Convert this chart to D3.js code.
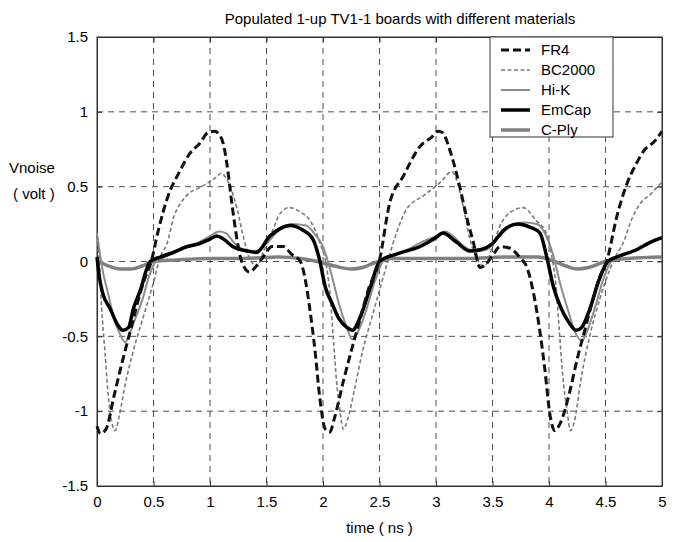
<!DOCTYPE html>
<html>
<head>
<meta charset="utf-8">
<script src="https://cdn.jsdelivr.net/npm/d3@7"></script>
<style>
	body { margin: 0; background: #fff; }
	text { font-family: "Liberation Sans", Arial, sans-serif; }
</style>
</head>
<body>
<div id="noise-chart"></div>
<script>

// ****** data ******
const chart_title = "Populated 1-up TV1-1 boards with different materials";
const x_ticks = [0, 0.5, 1, 1.5, 2, 2.5, 3, 3.5, 4, 4.5, 5];
const y_ticks = [-1.5, -1, -0.5, 0, 0.5, 1, 1.5];
const series_names = ["FR4", "BC2000", "Hi-K", "EmCap", "C-Ply"];

// [time (ns), Vnoise (volt)]
const fr4 = [[0,-1.10],[0.03,-1.15],[0.08,-1.12],[0.15,-0.9],[0.23,-0.65],[0.3,-0.45],[0.35,-0.3],[0.42,-0.12],[0.48,0.0],
	[0.54,0.2],[0.63,0.44],[0.73,0.6],[0.82,0.72],[0.91,0.79],[0.98,0.86],[1.04,0.87],[1.08,0.85],[1.12,0.78],[1.15,0.65],
	[1.2,0.35],[1.25,0.1],[1.28,0.0],[1.35,-0.07],[1.41,-0.03],[1.47,0.03],[1.55,0.1],[1.65,0.1],[1.72,0.05],[1.8,0.0],
	[1.85,-0.15],[1.88,-0.3],[1.93,-0.6],[1.97,-0.9],[2.02,-1.12],[2.06,-1.14],[2.1,-1.05],[2.18,-0.8],[2.26,-0.57],
	[2.33,-0.38],[2.4,-0.19],[2.5,0.01],[2.59,0.39],[2.71,0.57],[2.86,0.77],[2.96,0.83],[3.02,0.87],[3.06,0.86],[3.12,0.75],
	[3.21,0.5],[3.27,0.3],[3.33,0.13],[3.39,-0.04],[3.44,-0.02],[3.5,0.04],[3.57,0.1],[3.65,0.09],[3.74,0.03],[3.81,-0.05],
	[3.86,-0.2],[3.92,-0.47],[3.96,-0.7],[4.01,-1.03],[4.05,-1.13],[4.1,-1.08],[4.19,-0.85],[4.25,-0.65],[4.32,-0.45],
	[4.39,-0.25],[4.45,-0.1],[4.51,0.0],[4.6,0.3],[4.69,0.52],[4.77,0.65],[4.85,0.75],[4.93,0.8],[5.0,0.87]];

const bc2000 = [[0,0.17],[0.02,0.0],[0.04,-0.3],[0.07,-0.6],[0.1,-0.9],[0.13,-1.07],[0.16,-1.13],[0.2,-1.02],[0.25,-0.82],
	[0.32,-0.6],[0.41,-0.37],[0.5,-0.14],[0.56,0.03],[0.62,0.12],[0.68,0.3],[0.75,0.4],[0.82,0.46],[0.9,0.49],[0.97,0.52],
	[1.05,0.56],[1.1,0.59],[1.14,0.56],[1.18,0.5],[1.24,0.35],[1.3,0.15],[1.35,0.02],[1.42,-0.03],[1.47,0.06],[1.55,0.2],
	[1.62,0.32],[1.7,0.36],[1.8,0.33],[1.88,0.28],[1.97,0.13],[2.03,-0.03],[2.06,-0.2],[2.09,-0.5],[2.12,-0.8],[2.15,-1.0],
	[2.18,-1.12],[2.22,-1.05],[2.28,-0.85],[2.35,-0.6],[2.43,-0.38],[2.52,-0.14],[2.58,0.02],[2.65,0.19],[2.74,0.35],
	[2.89,0.44],[3.04,0.53],[3.14,0.6],[3.18,0.55],[3.24,0.37],[3.3,0.15],[3.36,0.02],[3.43,-0.03],[3.5,0.1],[3.58,0.26],
	[3.66,0.33],[3.77,0.36],[3.89,0.27],[3.97,0.2],[4.02,0.05],[4.06,-0.15],[4.09,-0.45],[4.12,-0.75],[4.16,-1.0],
	[4.19,-1.13],[4.23,-1.05],[4.28,-0.8],[4.36,-0.5],[4.45,-0.25],[4.54,-0.05],[4.6,0.05],[4.66,0.13],[4.72,0.26],
	[4.81,0.39],[4.9,0.45],[4.96,0.5],[5.0,0.53]];

const hik = [[0,0.19],[0.02,0.08],[0.05,-0.06],[0.1,-0.22],[0.15,-0.38],[0.2,-0.48],[0.25,-0.54],[0.29,-0.48],[0.34,-0.38],
	[0.4,-0.26],[0.46,-0.1],[0.52,0.0],[0.6,0.03],[0.7,0.06],[0.8,0.1],[0.9,0.13],[1.0,0.17],[1.08,0.2],[1.14,0.19],
	[1.22,0.12],[1.3,0.08],[1.4,0.07],[1.5,0.12],[1.6,0.2],[1.72,0.25],[1.85,0.24],[1.93,0.18],[2.0,0.1],[2.08,-0.1],
	[2.14,-0.28],[2.2,-0.42],[2.26,-0.52],[2.31,-0.47],[2.38,-0.33],[2.46,-0.13],[2.53,0.0],[2.62,0.04],[2.75,0.08],
	[2.9,0.14],[3.0,0.17],[3.08,0.2],[3.15,0.17],[3.25,0.1],[3.35,0.07],[3.45,0.08],[3.55,0.16],[3.65,0.23],[3.78,0.26],
	[3.89,0.25],[3.97,0.18],[4.03,0.06],[4.1,-0.15],[4.17,-0.33],[4.23,-0.47],[4.29,-0.53],[4.34,-0.46],[4.41,-0.3],
	[4.48,-0.12],[4.55,0.0],[4.65,0.04],[4.8,0.09],[4.9,0.13],[5.0,0.16]];

const emcap = [[0,0.03],[0.02,-0.1],[0.05,-0.21],[0.12,-0.32],[0.18,-0.42],[0.23,-0.46],[0.28,-0.44],[0.32,-0.32],
	[0.38,-0.2],[0.47,0.0],[0.56,0.03],[0.67,0.06],[0.8,0.1],[0.91,0.12],[1.0,0.15],[1.06,0.17],[1.12,0.15],[1.2,0.1],
	[1.33,0.07],[1.41,0.06],[1.53,0.17],[1.62,0.22],[1.71,0.24],[1.82,0.21],[1.91,0.15],[1.97,0.01],[2.02,-0.17],
	[2.08,-0.28],[2.14,-0.38],[2.21,-0.44],[2.26,-0.46],[2.33,-0.37],[2.42,-0.17],[2.5,0.0],[2.65,0.05],[2.86,0.1],
	[3.0,0.16],[3.06,0.19],[3.18,0.13],[3.3,0.07],[3.4,0.08],[3.5,0.12],[3.6,0.21],[3.72,0.25],[3.83,0.23],[3.92,0.19],
	[3.98,0.03],[4.04,-0.17],[4.1,-0.3],[4.17,-0.4],[4.24,-0.46],[4.29,-0.44],[4.36,-0.32],[4.44,-0.13],[4.52,0.0],
	[4.6,0.03],[4.78,0.08],[4.9,0.13],[5.0,0.16]];

const cply = [[0,0.01],[0.1,-0.03],[0.2,-0.05],[0.3,-0.05],[0.4,-0.03],[0.5,0.0],[0.7,0.01],[1.0,0.02],[1.3,0.02],
	[1.6,0.03],[1.8,0.02],[1.95,0.0],[2.1,-0.03],[2.25,-0.05],[2.35,-0.04],[2.45,-0.01],[2.6,0.02],[3.0,0.02],[3.3,0.02],
	[3.6,0.03],[3.9,0.03],[4.05,0.0],[4.15,-0.03],[4.25,-0.05],[4.35,-0.04],[4.5,0.0],[4.7,0.02],[5.0,0.03]];


function draw_chart(element_id) {

	const margin = {top: 37, right: 18, bottom: 56, left: 97},
	width = 680 - margin.left - margin.right,
	height = 542 - margin.top - margin.bottom;

	const svg = d3.select("#" + element_id)
		.append("svg")
			.attr("width", 680)
			.attr("height", 542);

	const g = svg.append("g")
		.attr("transform", "translate(" + margin.left + "," + margin.top + ")");

	const x_axis = d3.scaleLinear().domain([0, 5]).range([0, width]);
	const y_axis = d3.scaleLinear().domain([-1.5, 1.5]).range([height, 0]);

	// dashed grid
	g.append("g")
		.selectAll("line")
		.data(x_ticks.slice(1, -1))
		.join("line")
			.attr("x1", d => x_axis(d)).attr("x2", d => x_axis(d))
			.attr("y1", 0).attr("y2", height)
			.attr("stroke", "#222").attr("stroke-width", 0.8)
			.attr("stroke-dasharray", "6,5");
	g.append("g")
		.selectAll("line")
		.data(y_ticks.slice(1, -1))
		.join("line")
			.attr("x1", 0).attr("x2", width)
			.attr("y1", d => y_axis(d)).attr("y2", d => y_axis(d))
			.attr("stroke", "#222").attr("stroke-width", 0.8)
			.attr("stroke-dasharray", "6,5");

	// axes, ticks pointing inward
	const fmt = d => String(d);
	g.append("g")
		.attr("transform", "translate(0," + height + ")")
		.call(d3.axisBottom(x_axis).tickValues(x_ticks).tickFormat(fmt).tickSizeInner(-5).tickSizeOuter(0).tickPadding(10));
	g.append("g")
		.call(d3.axisLeft(y_axis).tickValues(y_ticks).tickFormat(fmt).tickSizeInner(-5).tickSizeOuter(0).tickPadding(9));
	g.append("g")
		.call(d3.axisTop(x_axis).tickValues(x_ticks).tickFormat("").tickSizeInner(-5).tickSizeOuter(0));
	g.append("g")
		.attr("transform", "translate(" + width + ",0)")
		.call(d3.axisRight(y_axis).tickValues(y_ticks).tickFormat("").tickSizeInner(-5).tickSizeOuter(0));

	g.selectAll(".tick text")
		.attr("font-size", 15)
		.attr("font-family", "Liberation Sans, Arial, sans-serif")
		.attr("fill", "#000");
	g.selectAll(".domain").attr("stroke", "#333");
	g.selectAll(".tick line").attr("stroke", "#333");

	g.append("rect")
		.attr("width", width).attr("height", height)
		.attr("fill", "none").attr("stroke", "#333").attr("stroke-width", 1);

	// lines
	const styles = {
		"FR4":    {data: fr4,    color: "#111", w: 3,   dash: "8,4"},
		"BC2000": {data: bc2000, color: "#7a7a7a", w: 1.6, dash: "4,2.5"},
		"Hi-K":   {data: hik,    color: "#8c8c8c", w: 2,   dash: null},
		"EmCap":  {data: emcap,  color: "#000", w: 3.5, dash: null},
		"C-Ply":  {data: cply,   color: "#808080", w: 3.5, dash: null}
	};

	const line = d3.line()
		.x(d => x_axis(d[0]))
		.y(d => y_axis(d[1]))
		.curve(d3.curveMonotoneX);

	const draw_order = ["C-Ply", "Hi-K", "BC2000", "EmCap", "FR4"];
	draw_order.forEach(name => {
		const s = styles[name];
		g.append("path")
			.datum(s.data)
			.attr("fill", "none")
			.attr("stroke", s.color)
			.attr("stroke-width", s.w)
			.attr("stroke-dasharray", s.dash)
			.attr("stroke-linejoin", "round")
			.attr("d", line);
	});

	// legend
	const legend = g.append("g").attr("transform", "translate(" + (490 - margin.left) + ",0)");
	legend.append("rect")
		.attr("width", 123).attr("height", 100)
		.attr("fill", "#fff").attr("stroke", "#333").attr("stroke-width", 1);
	series_names.forEach((name, i) => {
		const s = styles[name];
		const yy = 13 + i * 20;
		legend.append("line")
			.attr("x1", 11).attr("x2", 40)
			.attr("y1", yy).attr("y2", yy)
			.attr("stroke", s.color)
			.attr("stroke-width", s.w)
			.attr("stroke-dasharray", s.dash);
		legend.append("text")
			.attr("x", 51).attr("y", yy + 5)
			.attr("font-size", 15)
			.text(name);
	});

	// titles
	svg.append("text")
		.attr("x", 400).attr("y", 24)
		.attr("text-anchor", "middle")
		.attr("font-size", 15)
		.text(chart_title);
	svg.append("text")
		.attr("x", margin.left + width / 2).attr("y", 533)
		.attr("text-anchor", "middle")
		.attr("font-size", 15)
		.text("time ( ns )");
	svg.append("text")
		.attr("x", 9).attr("y", 173)
		.attr("font-size", 15)
		.text("Vnoise");
	svg.append("text")
		.attr("x", 13).attr("y", 199)
		.attr("font-size", 15)
		.text("( volt )");
}

function whenDocumentLoaded(action) {
	if (document.readyState === "loading") {
		document.addEventListener("DOMContentLoaded", action);
	} else {
		action();
	}
}

whenDocumentLoaded(() => {
	draw_chart("noise-chart");
});
</script>
</body>
</html>
